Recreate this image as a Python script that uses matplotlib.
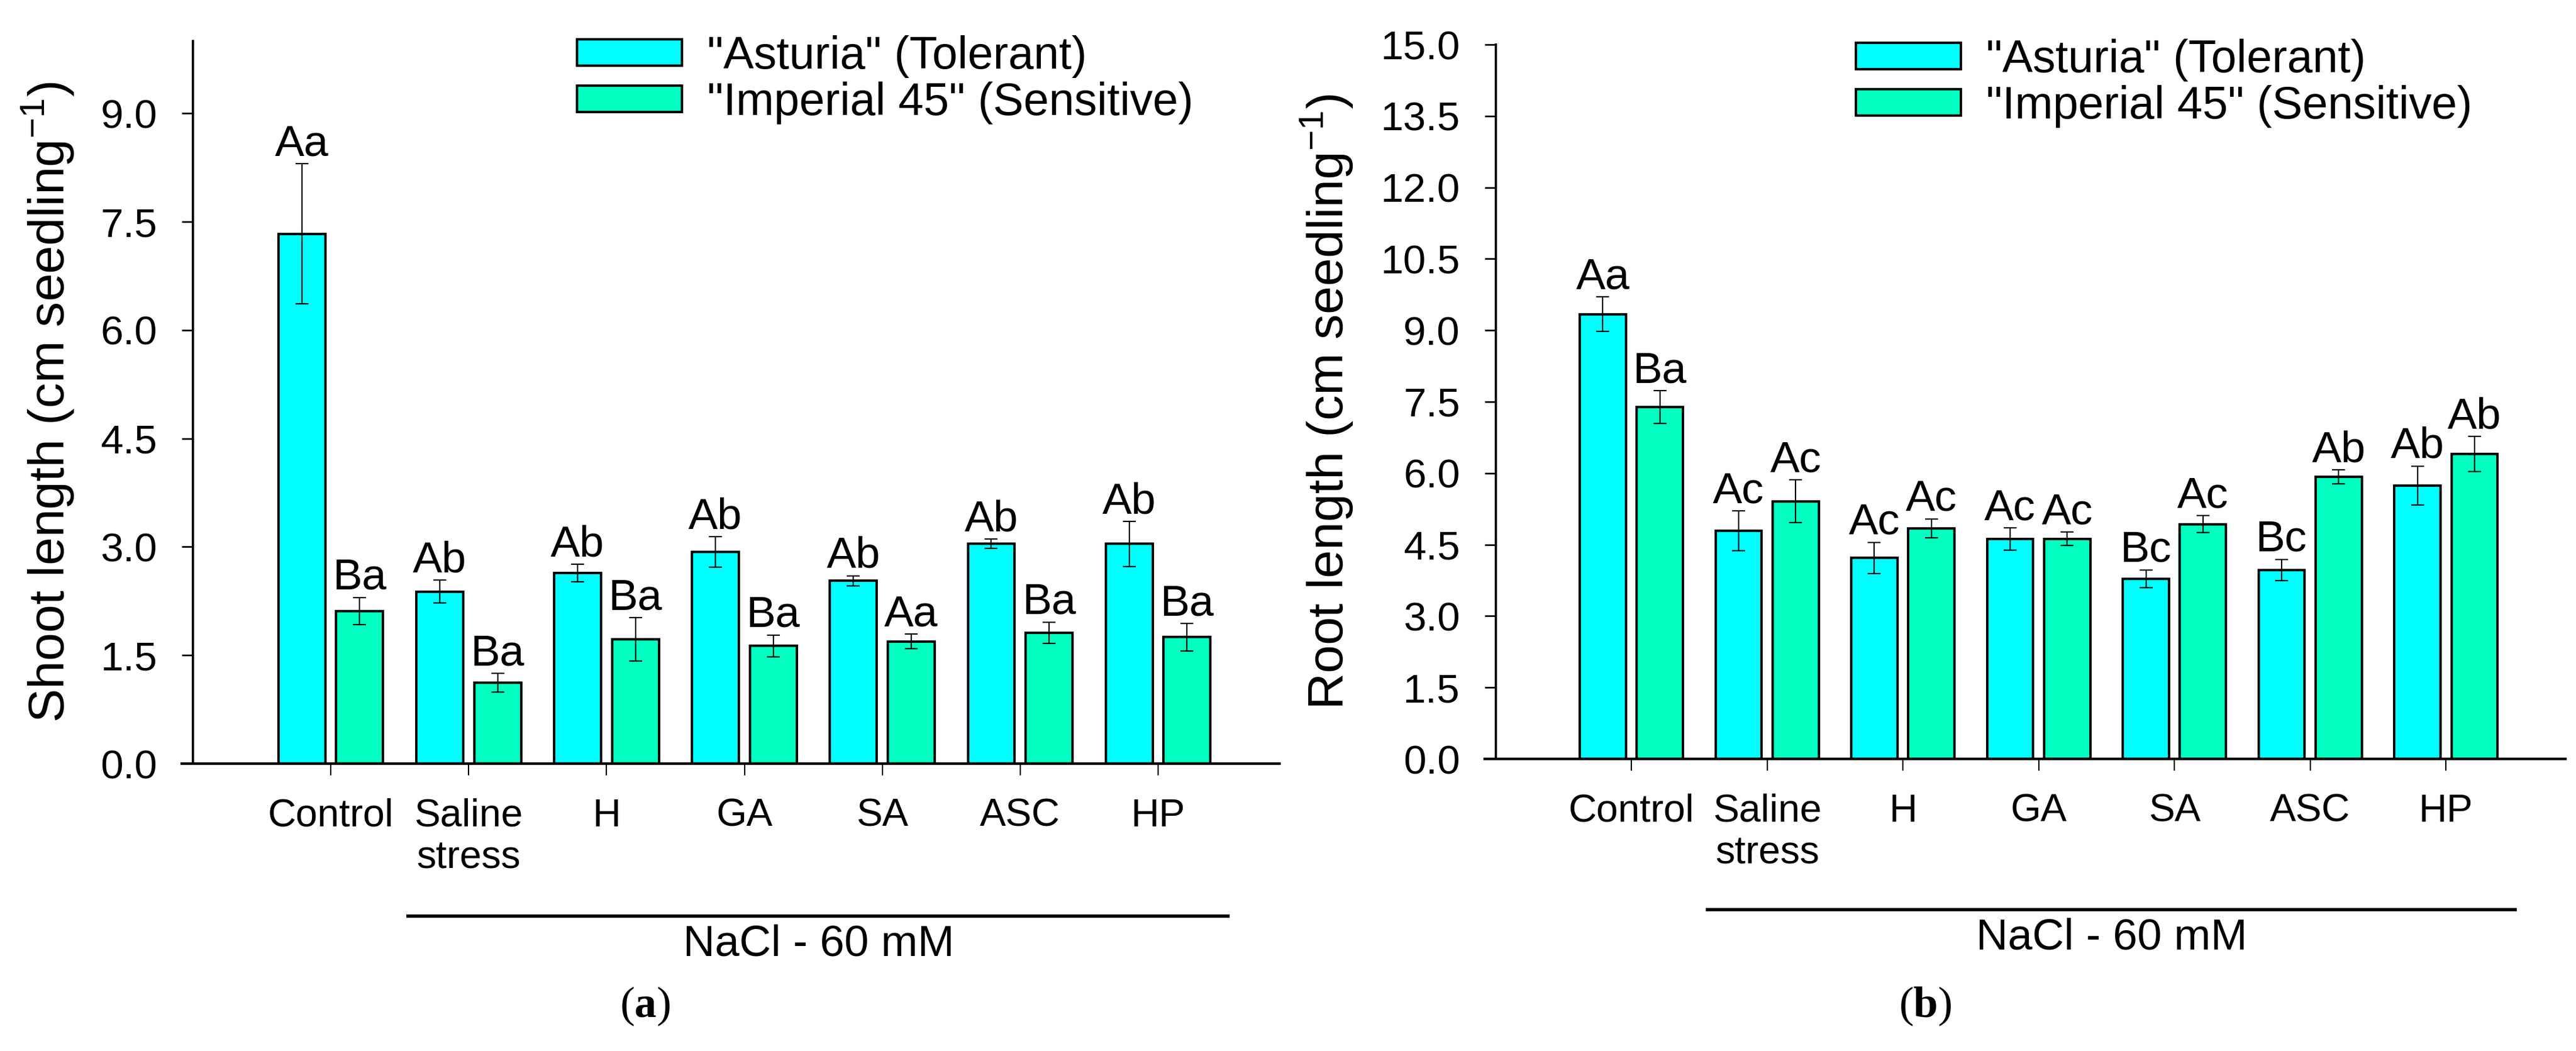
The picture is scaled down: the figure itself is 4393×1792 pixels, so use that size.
import numpy as np
import matplotlib
matplotlib.use('Agg')
import matplotlib.pyplot as plt
from matplotlib.patches import Patch

plt.rcParams['font.family'] = ['Liberation Sans', 'DejaVu Sans']
plt.rcParams['mathtext.fontset'] = 'custom'
plt.rcParams['mathtext.rm'] = 'Liberation Sans'
plt.rcParams['mathtext.bf'] = 'Liberation Serif:bold'

# data (mean and standard error)
treatments = ['Control', 'Saline\nstress', 'H', 'GA', 'SA', 'ASC', 'HP']
series_names = ['"Asturia" (Tolerant)', '"Imperial 45" (Sensitive)']

shoot_asturia = [7.33, 2.38, 2.64, 2.93, 2.53, 3.04, 3.04]
shoot_asturia_se = [0.97, 0.16, 0.12, 0.21, 0.07, 0.065, 0.31]
shoot_imperial = [2.11, 1.12, 1.72, 1.63, 1.69, 1.81, 1.75]
shoot_imperial_se = [0.19, 0.13, 0.30, 0.15, 0.10, 0.15, 0.19]
shoot_letters_ast = ['Aa', 'Ab', 'Ab', 'Ab', 'Ab', 'Ab', 'Ab']
shoot_letters_imp = ['Ba', 'Ba', 'Ba', 'Ba', 'Aa', 'Ba', 'Ba']

root_asturia = [9.34, 4.79, 4.22, 4.62, 3.78, 3.97, 5.74]
root_asturia_se = [0.36, 0.42, 0.33, 0.23, 0.19, 0.22, 0.41]
root_imperial = [7.39, 5.41, 4.84, 4.62, 4.93, 5.92, 6.40]
root_imperial_se = [0.34, 0.45, 0.20, 0.14, 0.18, 0.15, 0.37]
root_letters_ast = ['Aa', 'Ac', 'Ac', 'Ac', 'Bc', 'Bc', 'Ab']
root_letters_imp = ['Ba', 'Ac', 'Ac', 'Ac', 'Ac', 'Ab', 'Ab']

colors = ['#00FFFF', '#00FFC0']

W, H = 4393, 1792
fig = plt.figure(figsize=(W / 200, H / 200), dpi=200)
fig.patch.set_color('white')


def px_rect(x0, x1, y_top, y_bot):
    # pixel box -> figure fraction [left, bottom, width, height]
    return [x0 / W, 1 - y_bot / H, (x1 - x0) / W, (y_bot - y_top) / H]


def panel(rect, ast, ast_se, imp, imp_se, let_a, let_i, ymax, ylabel,
          ylab_x, leg_xy, tag, tag_x):
    ax = fig.add_axes(rect)
    x = np.arange(len(treatments))
    off, bw = 0.21, 0.34
    for vals, se, lets, dx, c in [(ast, ast_se, let_a, -off, colors[0]),
                                  (imp, imp_se, let_i, off, colors[1])]:
        ax.bar(x + dx, vals, bw, color=c, edgecolor='black', linewidth=1.5,
               zorder=2)
        ax.errorbar(x + dx, vals, yerr=se, fmt='none', ecolor='black',
                    elinewidth=0.8, capsize=4, capthick=0.8, zorder=3)
        for xi, v, s, t in zip(x + dx, vals, se, lets):
            ax.annotate(t, (xi, v + s), xytext=(0, 5),
                        textcoords='offset points', ha='center',
                        va='baseline', fontsize=27)
    ax.set_xlim(-1.08, 6.88)
    ax.set_ylim(0, ymax)
    ax.spines['top'].set_visible(False)
    ax.spines['right'].set_visible(False)
    ax.spines['left'].set_position(('data', -1.0))
    ax.spines['left'].set_linewidth(1.4)
    ax.spines['bottom'].set_linewidth(1.6)
    ax.set_yticks(np.arange(0, ymax + 0.01, 1.5))
    ax.set_yticklabels(['%.1f' % v for v in np.arange(0, ymax + 0.01, 1.5)])
    ax.set_xticks(x)
    ax.set_xticklabels(treatments)
    ax.tick_params(axis='y', direction='out', length=6.8, width=1.0,
                   pad=15, labelsize=25)
    ax.tick_params(axis='x', direction='out', length=7.2, width=0.8,
                   pad=14, labelsize=24)

    fig.text(ylab_x / W, 1 - 685 / H, ylabel, rotation=90, ha='center',
             va='center', fontsize=31)

    # NaCl bracket line under the treatments
    tr = ax.get_xaxis_transform()
    ax.plot([0.55, 6.52], [-0.211, -0.211], color='black', lw=2.0,
            transform=tr, clip_on=False, solid_capstyle='butt')
    ax.text(3.54, -0.25, 'NaCl - 60 mM', transform=tr, ha='center',
            va='center', fontsize=27)

    handles = [Patch(facecolor=c, edgecolor='black', linewidth=1.5)
               for c in colors]
    ax.legend(handles, series_names, loc='upper left',
              bbox_to_anchor=(leg_xy[0] / W, 1 - leg_xy[1] / H),
              bbox_transform=fig.transFigure, frameon=False, fontsize=28,
              borderpad=0, borderaxespad=0, handlelength=2.3,
              handleheight=0.5, handletextpad=0.55, labelspacing=0.08)

    fig.text(tag_x / W, 1 - 1716 / H, r'($\mathbf{%s}$)' % tag,
             ha='center', va='center', fontsize=27, family='Liberation Serif')
    return ax


panel(px_rect(310, 2182, 70, 1302), shoot_asturia, shoot_asturia_se,
      shoot_imperial, shoot_imperial_se, shoot_letters_ast, shoot_letters_imp,
      10, r'Shoot length (cm seedling$^{-1}$)', 82, (984, 60), 'a', 1100)
panel(px_rect(2532, 4375, 76, 1294), root_asturia, root_asturia_se,
      root_imperial, root_imperial_se, root_letters_ast, root_letters_imp,
      15, r'Root length (cm seedling$^{-1}$)', 2263, (3165, 66), 'b', 3283)

fig.savefig('out.png', dpi=200, facecolor='white')
